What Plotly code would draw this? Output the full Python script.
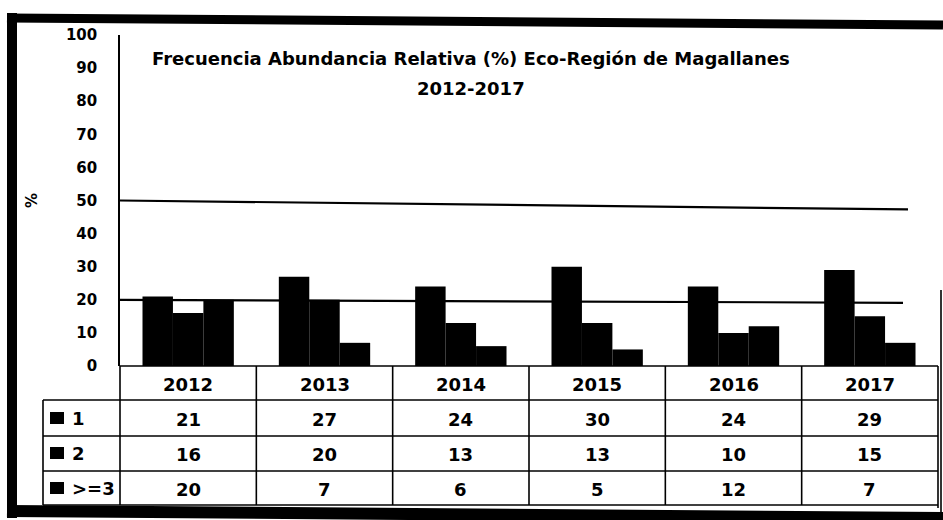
import plotly.graph_objects as go

years = ["2012", "2013", "2014", "2015", "2016", "2017"]
series_names = ["1", "2", ">=3"]
s1 = [21, 27, 24, 30, 24, 29]
s2 = [16, 20, 13, 13, 10, 15]
s3 = [20, 7, 6, 5, 12, 7]
y_ticks = [0, 10, 20, 30, 40, 50, 60, 70, 80, 90, 100]
grid_levels = [20, 50]

W, H = 943, 520
def px(x): return x / W
def py(y): return 1 - y / H

FONT = "DejaVu Sans"
fig = go.Figure()
for name, vals in zip(series_names, [s1, s2, s3]):
    fig.add_trace(go.Bar(x=years, y=vals, name=name, marker=dict(color="black", line=dict(width=0))))

shapes = []
# gridlines (slightly skewed like the scanned original)
grid_right_x = [903, 908]
grid_skew = [0.9, 2.7]
for g, rx, sk in zip(grid_levels, grid_right_x, grid_skew):
    shapes.append(dict(type="line", xref="paper", yref="y", x0=px(120), x1=px(rx), y0=g, y1=g - sk,
                       line=dict(color="black", width=2.2), layer="below"))
ln = dict(color="black", width=1.6)
for yy in [400, 436, 471, 505]:
    shapes.append(dict(type="line", xref="paper", yref="paper", x0=px(43), x1=px(938), y0=py(yy), y1=py(yy), line=ln))
shapes.append(dict(type="line", xref="paper", yref="paper", x0=px(120), x1=px(938), y0=py(366), y1=py(366), line=ln))
shapes.append(dict(type="line", xref="paper", yref="paper", x0=px(43), x1=px(43), y0=py(400), y1=py(505), line=ln))
shapes.append(dict(type="line", xref="paper", yref="paper", x0=px(120), x1=px(120), y0=py(366), y1=py(505), line=ln))
shapes.append(dict(type="line", xref="paper", yref="paper", x0=px(938), x1=px(938), y0=py(366), y1=py(508), line=ln))
for k in range(len(years) - 1):
    shapes.append(dict(type="line", xref="x", yref="paper", x0=k + 0.5, x1=k + 0.5, y0=py(366), y1=py(505), line=ln))
row_y = [418, 453, 488]
for ry in row_y:
    shapes.append(dict(type="rect", xref="paper", yref="paper", x0=px(50), x1=px(64), y0=py(ry - 6), y1=py(ry + 6),
                       fillcolor="black", line=dict(width=0)))
# outer frame (thick, slightly skewed)
shapes.append(dict(type="line", xref="paper", yref="paper", x0=px(12), x1=px(12), y0=py(13), y1=py(518), line=dict(color="black", width=10)))
shapes.append(dict(type="line", xref="paper", yref="paper", x0=px(7), x1=px(943), y0=py(18), y1=py(25), line=dict(color="black", width=9)))
shapes.append(dict(type="line", xref="paper", yref="paper", x0=px(7), x1=px(943), y0=py(511), y1=py(518), line=dict(color="black", width=12)))
shapes.append(dict(type="line", xref="paper", yref="paper", x0=px(941), x1=px(941), y0=py(290), y1=py(512), line=dict(color="black", width=1.6)))

ann = []
tf = dict(family=FONT, size=18, color="black")
def A(**kw):
    d = dict(showarrow=False, xanchor="center", yanchor="middle")
    d.update(kw)
    ann.append(d)
for k, yr in enumerate(years):
    A(x=k, xref="x", y=py(384), yref="paper", text="<b>%s</b>" % yr, font=tf)
    for vals, ry in zip([s1, s2, s3], row_y):
        A(x=k, xref="x", y=py(ry + 1), yref="paper", text="<b>%d</b>" % vals[k], font=tf)
for name, ry in zip(series_names, row_y):
    A(x=px(70), xref="paper", y=py(ry), yref="paper", text="<b>%s</b>" % name, xanchor="left", font=tf)
A(x=px(32), xref="paper", y=py(201), yref="paper", text="<b>%</b>", textangle=-90,
  font=dict(family=FONT, size=15, color="black"))
A(x=px(471), xref="paper", y=py(58), yref="paper",
  text="<b>Frecuencia Abundancia Relativa (%) Eco-Región de Magallanes</b>",
  font=dict(family=FONT, size=18, color="black"))
A(x=px(471), xref="paper", y=py(88), yref="paper", text="<b>2012-2017</b>",
  font=dict(family=FONT, size=18, color="black"))

fig.update_layout(
    width=W, height=H, autosize=False, margin=dict(l=0, r=0, t=0, b=0, pad=0),
    paper_bgcolor="white", plot_bgcolor="white",
    barmode="group", bargap=0.33, bargroupgap=0, showlegend=False,
    xaxis=dict(domain=[px(120), px(938)], type="category", range=[-0.5, 5.5], showticklabels=False,
               showgrid=False, zeroline=False, showline=False, ticks="", automargin=False),
    yaxis=dict(domain=[py(366), py(35)], range=[0, 100], tickvals=y_ticks,
               ticktext=["<b>%d</b>" % v for v in y_ticks], showgrid=False, zeroline=False,
               showline=True, linecolor="black", linewidth=1.6, ticks="", ticklabelstandoff=18,
               automargin=False, tickfont=dict(family=FONT, size=15, color="black")),
    shapes=shapes, annotations=ann,
)
fig.write_html("out.html", config=dict(displayModeBar=False),
               post_script="document.body.style.margin='0';document.body.style.overflow='hidden';")
